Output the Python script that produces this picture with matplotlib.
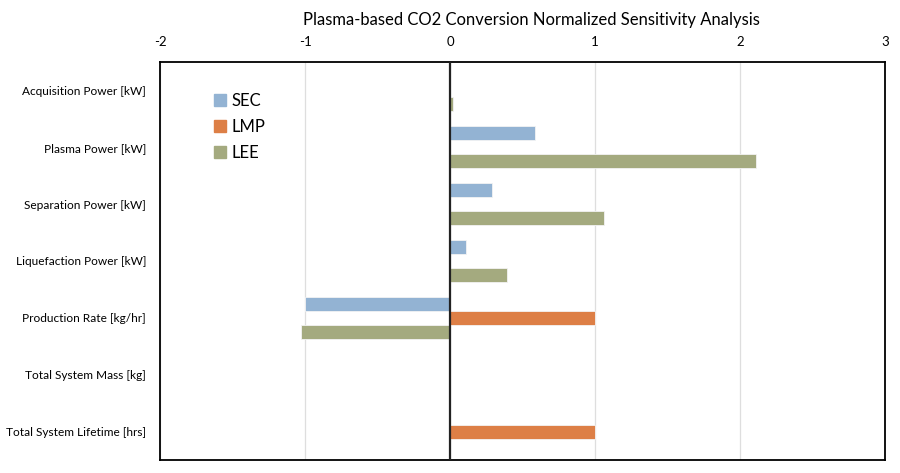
import numpy as np
import matplotlib.pyplot as plt
from matplotlib.lines import Line2D

plt.rcParams['font.family'] = ['Lato', 'DejaVu Sans']

categories = ['Acquisition Power [kW]', 'Plasma Power [kW]', 'Separation Power [kW]',
              'Liquefaction Power [kW]', 'Production Rate [kg/hr]',
              'Total System Mass [kg]', 'Total System Lifetime [hrs]']
sec = [0.0, 0.585, 0.29, 0.11, -1.0, 0.0, 0.0]
lmp = [0.0, 0.0, 0.0, 0.0, 1.0, 0.0, 1.0]
lee = [0.02, 2.11, 1.06, 0.39, -1.03, 0.0, 0.0]
xticks = [-2, -1, 0, 1, 2, 3]

series = [('SEC', sec, '#93b3d3'), ('LMP', lmp, '#dd7f46'), ('LEE', lee, '#a4aa7f')]

fig = plt.figure(figsize=(9, 4.73), dpi=100)
ax = fig.add_axes([0.1778, 0.0275, 0.8055, 0.8415])

y = np.arange(len(categories))
h = 0.245
for i, (name, vals, col) in enumerate(series):
    ax.barh(y + (i - 1) * h, vals, height=h, color=col, edgecolor='#f3f3f3', lw=0.6, zorder=3)

ax.set_ylim(len(categories) - 0.5, -0.5)
ax.set_xlim(-2, 3)
ax.set_xticks(xticks)
ax.set_xticklabels([str(t) for t in xticks], fontsize=9.5)
ax.xaxis.tick_top()
ax.tick_params(axis='x', length=0, pad=10)
ax.set_yticks(y)
ax.set_yticklabels(categories, fontsize=8.6)
ax.tick_params(axis='y', length=0, pad=10)
ax.grid(axis='x', color='#dedede', lw=0.9, zorder=0)
ax.axvline(0, color='#222222', lw=1.6, zorder=4)
for s in ax.spines.values():
    s.set_color('black')
    s.set_linewidth(1.3)

handles = [Line2D([], [], marker='s', ls='none', color=c, markersize=8, label=n) for n, _, c in series]
leg = ax.legend(handles=handles, loc='upper left', bbox_to_anchor=(0.05, 0.96), frameon=False,
                fontsize=12, handletextpad=0.2, labelspacing=0.6, handlelength=1.0)

fig.text(0.59, 0.957, 'Plasma-based CO2 Conversion Normalized Sensitivity Analysis',
         ha='center', va='center', fontsize=12)

fig.savefig('out.png', dpi=100)
